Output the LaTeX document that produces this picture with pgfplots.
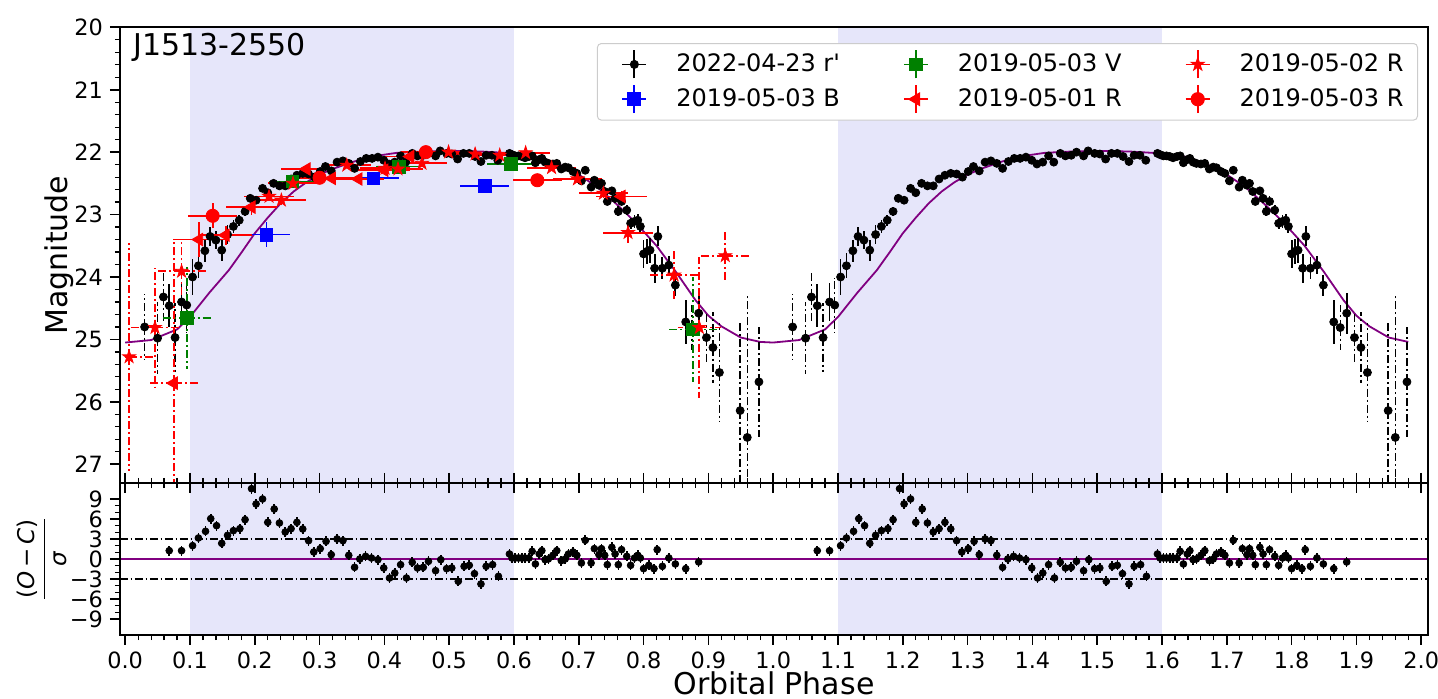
\documentclass[border=0pt]{standalone}
\usepackage{fontspec}
\setmainfont{DejaVu Sans}
\usepackage{pgfplots}
\usepackage{pgfplotstable}
\pgfplotsset{compat=1.18}
\usetikzlibrary{plotmarks}

\definecolor{bandc}{RGB}{230,230,250}
\definecolor{mpurple}{RGB}{128,0,128}
\definecolor{mgreen}{RGB}{0,128,0}
\definecolor{mblue}{RGB}{0,0,255}
\definecolor{mred}{RGB}{255,0,0}

% filled five-pointed star (matplotlib '*')
\pgfdeclareplotmark{fstar}{%
  \pgfpathmoveto{\pgfpointpolar{90}{\pgfplotmarksize}}%
  \pgfpathlineto{\pgfpointpolar{126}{0.382\pgfplotmarksize}}%
  \pgfpathlineto{\pgfpointpolar{162}{\pgfplotmarksize}}%
  \pgfpathlineto{\pgfpointpolar{198}{0.382\pgfplotmarksize}}%
  \pgfpathlineto{\pgfpointpolar{234}{\pgfplotmarksize}}%
  \pgfpathlineto{\pgfpointpolar{270}{0.382\pgfplotmarksize}}%
  \pgfpathlineto{\pgfpointpolar{306}{\pgfplotmarksize}}%
  \pgfpathlineto{\pgfpointpolar{342}{0.382\pgfplotmarksize}}%
  \pgfpathlineto{\pgfpointpolar{18}{\pgfplotmarksize}}%
  \pgfpathlineto{\pgfpointpolar{54}{0.382\pgfplotmarksize}}%
  \pgfpathclose
  \pgfusepathqfillstroke}

% 2022-04-23 r' (phases of the second cycle; first cycle = x-1)
\pgfplotstableread{
x y ey
1.068 24.46 0.34
1.087 24.40 0.31
1.104 24.00 0.29
1.113 23.82 0.20
1.123 23.58 0.18
1.131 23.35 0.15
1.140 23.41 0.14
1.149 23.57 0.17
1.158 23.32 0.15
1.167 23.19 0.10
1.176 23.09 0.09
1.185 22.95 0.07
1.193 22.74 0.06
1.202 22.77 0.06
1.212 22.58 0.05
1.220 22.65 0.05
1.229 22.50 0.04
1.238 22.54 0.04
1.247 22.54 0.04
1.256 22.43 0.04
1.265 22.37 0.04
1.274 22.34 0.04
1.283 22.35 0.04
1.292 22.40 0.04
1.301 22.31 0.03
1.309 22.23 0.03
1.318 22.30 0.03
1.327 22.16 0.03
1.336 22.14 0.03
1.345 22.18 0.03
1.354 22.26 0.03
1.363 22.15 0.03
1.372 22.10 0.03
1.381 22.10 0.03
1.390 22.08 0.03
1.399 22.13 0.03
1.407 22.19 0.03
1.416 22.16 0.03
1.425 22.06 0.03
1.433 22.16 0.03
1.443 22.02 0.03
1.451 22.06 0.03
1.460 22.05 0.03
1.468 22.00 0.03
1.479 22.06 0.03
1.486 21.98 0.03
1.496 22.02 0.03
1.504 22.03 0.03
1.513 22.11 0.03
1.522 22.02 0.03
1.531 22.02 0.03
1.540 22.07 0.03
1.549 22.15 0.03
1.557 22.05 0.03
1.566 22.05 0.03
1.575 22.13 0.03
1.593 22.02 0.03
1.597 22.04 0.03
1.602 22.06 0.03
1.607 22.06 0.03
1.612 22.07 0.03
1.617 22.09 0.03
1.623 22.07 0.03
1.628 22.06 0.03
1.633 22.17 0.03
1.639 22.12 0.03
1.643 22.10 0.03
1.648 22.16 0.03
1.653 22.18 0.03
1.660 22.19 0.03
1.666 22.18 0.03
1.673 22.27 0.03
1.679 22.24 0.03
1.684 22.25 0.03
1.691 22.31 0.04
1.697 22.34 0.04
1.704 22.46 0.04
1.710 22.29 0.04
1.719 22.56 0.05
1.724 22.45 0.05
1.731 22.53 0.05
1.735 22.50 0.05
1.740 22.63 0.06
1.744 22.79 0.06
1.751 22.62 0.06
1.756 22.74 0.07
1.761 22.95 0.08
1.766 22.79 0.08
1.774 22.93 0.08
1.780 23.14 0.09
1.786 23.11 0.10
1.791 23.09 0.10
1.795 23.19 0.11
1.800 23.63 0.22
1.805 23.59 0.20
1.810 23.57 0.20
1.817 23.86 0.23
1.822 23.35 0.16
1.829 23.86 0.18
1.839 23.81 0.14
1.849 24.13 0.17
1.865 24.72 0.35
1.885 24.58 0.33
}\rsolid

\pgfplotstableread{
x y ey
1.030 24.80 0.52
1.050 24.98 0.58
1.059 24.32 0.42
1.077 24.97 0.55
1.095 24.45 0.44
1.875 24.81 0.36
1.897 24.97 0.40
1.907 25.13 0.57
1.917 25.53 0.80
1.949 26.14 1.41
1.960 26.57 2.28
1.978 25.68 0.88
}\rfaint

% residuals (O-C)/sigma, second cycle
\pgfplotstableread{
x r
1.068 1.25
1.087 1.25
1.104 2.0
1.113 3.15
1.124 4.15
1.132 6.05
1.141 5.0
1.149 2.35
1.158 3.55
1.167 4.25
1.177 4.55
1.185 5.9
1.195 10.55
1.202 8.25
1.212 9.0
1.220 5.5
1.230 7.5
1.238 5.4
1.247 4.05
1.256 4.55
1.265 5.5
1.274 4.5
1.283 2.75
1.291 1.05
1.301 1.55
1.310 2.65
1.318 0.65
1.327 3.0
1.336 2.75
1.345 0.55
1.354 -1.25
1.362 0.0
1.371 0.4
1.380 0.15
1.390 -0.1
1.399 -1.35
1.408 -2.85
1.416 -2.1
1.425 -0.85
1.434 -2.85
1.443 -0.5
1.451 -1.35
1.460 -1.25
1.468 -0.35
1.479 -1.75
1.487 -0.1
1.496 -1.45
1.504 -1.35
1.514 -3.35
1.523 -1.1
1.531 -0.95
1.539 -2.2
1.549 -3.75
1.557 -1.1
1.567 -0.85
1.576 -2.6
1.593 0.75
1.597 0.15
1.602 0.15
1.607 0.15
1.612 0.15
1.617 0.15
1.623 0.15
1.628 1.15
1.633 -0.75
1.639 0.75
1.643 1.25
1.648 -0.1
1.653 0.0
1.660 0.55
1.666 1.25
1.673 -0.25
1.679 0.0
1.684 0.75
1.691 1.05
1.697 0.55
1.704 -0.6
1.710 2.8
1.719 -0.6
1.724 1.55
1.731 0.65
1.735 1.55
1.740 0.55
1.744 -0.85
1.751 1.75
1.756 0.75
1.761 -0.85
1.766 1.4
1.774 0.4
1.780 -0.95
1.786 0.15
1.791 0.55
1.795 0.15
1.800 -1.45
1.808 -0.95
1.816 -1.45
1.821 1.4
1.829 -1.1
1.839 0.15
1.849 -0.75
1.865 -1.45
1.885 -0.45
}\resid

% model light curve, one cycle
\pgfplotstableread{
x y
0.00 25.05
0.04 25.01
0.08 24.84
0.10 24.64
0.13 24.25
0.16 23.89
0.18 23.60
0.20 23.30
0.22 23.05
0.24 22.82
0.26 22.63
0.28 22.48
0.30 22.36
0.32 22.27
0.35 22.16
0.38 22.07
0.42 22.01
0.46 21.99
0.50 21.98
0.55 21.99
0.60 22.02
0.64 22.08
0.67 22.20
0.70 22.36
0.73 22.57
0.76 22.85
0.78 23.05
0.80 23.27
0.82 23.50
0.85 23.92
0.88 24.37
0.90 24.62
0.92 24.79
0.95 24.97
0.98 25.04
1.00 25.05
}\model

\pgfplotstableread{
x y ex ey
0.218 23.32 0.037 0.20
0.383 22.42 0.040 0.08
0.555 22.54 0.038 0.07
}\bdata

\pgfplotstableread{
x y ex ey
0.258 22.47 0.036 0.06
0.423 22.23 0.036 0.05
0.595 22.19 0.036 0.05
}\vdata

\pgfplotstableread{
x y ex ey
0.095 24.66 0.037 0.82
0.876 24.84 0.037 0.84
}\vfaint

\pgfplotstableread{
x y ex ey
0.114 23.40 0.040 0.28
0.155 23.33 0.040 0.15
0.195 22.88 0.040 0.12
0.280 22.27 0.040 0.06
0.319 22.42 0.040 0.06
0.360 22.43 0.040 0.06
0.400 22.29 0.040 0.05
0.440 22.07 0.040 0.05
0.766 22.71 0.040 0.08
}\rone

\pgfplotstableread{
x y ex ey
0.075 25.70 0.037 2.30
}\ronefaint

\pgfplotstableread{
x y ex ey
0.222 22.71 0.038 0.07
0.241 22.77 0.038 0.07
0.259 22.50 0.038 0.06
0.342 22.21 0.038 0.05
0.401 22.26 0.038 0.05
0.421 22.27 0.038 0.05
0.458 22.18 0.038 0.05
0.499 22.00 0.038 0.05
0.540 22.03 0.038 0.05
0.578 22.05 0.038 0.05
0.618 22.01 0.038 0.05
0.658 22.25 0.038 0.05
0.698 22.43 0.038 0.06
0.738 22.66 0.038 0.07
0.776 23.29 0.038 0.16
}\rtwo

\pgfplotstableread{
x y exm exp ey
0.006 25.28 0.006 0.037 1.82
0.046 24.81 0.039 0.039 0.96
0.087 23.91 0.039 0.039 0.47
0.847 23.97 0.039 0.039 0.43
0.886 24.81 0.033 0.033 1.13
0.926 23.66 0.039 0.039 0.39
}\rtwofaint

\pgfplotstableread{
x y ex ey
0.135 23.02 0.038 0.20
0.300 22.41 0.038 0.08
0.464 22.00 0.038 0.05
0.636 22.45 0.038 0.06
}\rthree

\tikzset{ddash/.style={dash pattern=on 4pt off 1.5pt on 1pt off 1.5pt}}

\pgfplotsset{
  panel/.style={scale only axis, width=654pt, xmin=-0.008, xmax=2.0105},
  deco/.style={tick align=outside, major tick length=5pt, minor tick length=2.6pt,
    tick style={black, line width=0.8pt}, minor tick style={line width=0.6pt},
    axis line style={line width=0.9pt}, axis on top,
    xtick={0,0.1,...,2.0}, minor x tick num=4,
    tick label style={font=\fontsize{11.2}{13}\selectfont},
    x tick label style={/pgf/number format/.cd, fixed, fixed zerofill, precision=1},
    /pgf/number format/assume math mode=true},
  ebar/.style={only marks, forget plot, mark options={solid},
    error bars/.cd, x dir=both, x explicit, y dir=both, y explicit, error mark=none,
    error bar style={line width=0.9pt, #1}, /pgfplots/.cd},
}

\begin{document}
\begin{tikzpicture}
\useasboundingbox (-60pt,-32pt) rectangle (659pt,317.5pt);

% shaded phase ranges, drawn first so ticks of both panels stay visible
\begin{axis}[panel, hide axis, at={(0pt,0pt)}, anchor=south west, height=76pt, ymin=-11.4, ymax=11.4]
\addplot[fill=bandc, draw=none] coordinates {(0.1,-11.4) (0.6,-11.4) (0.6,11.4) (0.1,11.4)};
\addplot[fill=bandc, draw=none] coordinates {(1.1,-11.4) (1.6,-11.4) (1.6,11.4) (1.1,11.4)};
\end{axis}
\begin{axis}[panel, hide axis, at={(0pt,76pt)}, anchor=south west, height=227.85pt, ymin=20, ymax=27.3]
\addplot[fill=bandc, draw=none] coordinates {(0.1,20) (0.6,20) (0.6,27.3) (0.1,27.3)};
\addplot[fill=bandc, draw=none] coordinates {(1.1,20) (1.6,20) (1.6,27.3) (1.1,27.3)};
\end{axis}

% residual panel
\begin{axis}[panel, deco, at={(0pt,0pt)}, anchor=south west, height=76pt,
  ymin=-11.4, ymax=11.4, ytick={-9,-6,-3,0,3,6,9}, yticklabels={−9,−6,−3,0,3,6,9},
  minor y tick num=2, xtick pos=both, xticklabel pos=left, ytick pos=left,
  xlabel={Orbital Phase},
  xlabel style={at={(axis description cs:0.5,-0.39)}, anchor=base, font=\fontsize{15}{18}\selectfont},
  ylabel={$\displaystyle\frac{\mbox{(\textit{O}\,−\,\textit{C})}}{\mbox{\textit{σ}}}$},
  ylabel style={at={(axis description cs:-0.0596,0.5)}, anchor=center, font=\fontsize{11.5}{14}\selectfont}]
\addplot[mpurple, line width=0.8pt] coordinates {(-0.008,0) (2.0105,0)};
\addplot[black, line width=0.8pt, dash pattern=on 4pt off 1.3pt on 0.9pt off 1.3pt] coordinates {(-0.008,3) (2.0105,3)};
\addplot[black, line width=0.8pt, dash pattern=on 4pt off 1.3pt on 0.9pt off 1.3pt] coordinates {(-0.008,-3) (2.0105,-3)};
\addplot[only marks, black, mark=*, mark size=1.7pt, error bars/.cd, y dir=both, y fixed=0.75, error mark=none, error bar style={line width=0.8pt}]
  table[x expr=\thisrow{x}-1, y=r] {\resid};
\addplot[only marks, black, mark=*, mark size=1.7pt, error bars/.cd, y dir=both, y fixed=0.75, error mark=none, error bar style={line width=0.8pt}]
  table[x=x, y=r] {\resid};
\end{axis}

% light-curve panel
\begin{axis}[panel, deco, at={(0pt,76pt)}, anchor=south west, height=227.85pt,
  ymin=20, ymax=27.3, y dir=reverse, ytick={20,21,...,27}, minor y tick num=4,
  xtick pos=left, xticklabels={}, ytick pos=left,
  ylabel={Magnitude},
  ylabel style={at={(axis description cs:-0.0405,0.5)}, anchor=base, font=\fontsize{15}{18}\selectfont},
  legend columns=3, legend cell align=left,
  legend style={at={(axis description cs:0.99235,0.9655)}, anchor=north east,
    draw=black!20, line width=0.5pt, rounded corners=2pt, fill=white,
    font=\fontsize{12}{14}\selectfont, inner xsep=5pt, inner ysep=3pt, row sep=2.5pt,
    /tikz/every even column/.append style={column sep=22.5pt}},
  legend image code/.code={
    \draw[#1, mark=none, solid, line width=0.9pt] (-6pt,0pt) -- (6pt,0pt);
    \draw[#1, mark=none, solid, line width=0.9pt] (0pt,-7pt) -- (0pt,7pt);
    \path[draw=none, fill=none] (-13.5pt,0pt) -- (19pt,0pt);
    \draw[#1, solid] plot coordinates {(0pt,0pt)};
  }]
\addplot[mpurple, line width=0.9pt, forget plot] table[x=x, y=y] {\model};
\addplot[mpurple, line width=0.9pt, forget plot, restrict x to domain=1:1.985] table[x expr=\thisrow{x}+1, y=y] {\model};

% 2022-04-23 r'
\addplot[only marks, forget plot, black, mark=*, mark size=2pt, error bars/.cd, y dir=both, y explicit, error mark=none, error bar style={line width=0.9pt}]
  table[x expr=\thisrow{x}-1, y=y, y error=ey] {\rsolid};
\addplot[only marks, forget plot, black, mark=*, mark size=2pt, error bars/.cd, y dir=both, y explicit, error mark=none, error bar style={line width=0.9pt}]
  table[x=x, y=y, y error=ey] {\rsolid};
\addplot[only marks, forget plot, black, mark=*, mark size=2pt, mark options={solid}, error bars/.cd, y dir=both, y explicit, error mark=none, error bar style={line width=0.7pt, ddash}]
  table[x expr=\thisrow{x}-1, y=y, y error=ey] {\rfaint};
\addplot[only marks, forget plot, black, mark=*, mark size=2pt, mark options={solid}, error bars/.cd, y dir=both, y explicit, error mark=none, error bar style={line width=0.7pt, ddash}]
  table[x=x, y=y, y error=ey] {\rfaint};

% 2019-05-03 B
\addplot[mblue, mark=square*, mark size=3.2pt, ebar={}] table[x=x, y=y, x error=ex, y error=ey] {\bdata};
% 2019-05-03 V
\addplot[mgreen, mark=square*, mark size=3.2pt, ebar={}] table[x=x, y=y, x error=ex, y error=ey] {\vdata};
\addplot[mgreen, mark=square*, mark size=3.2pt, ebar={ddash}] table[x=x, y=y, x error=ex, y error=ey] {\vfaint};
% 2019-05-01 R
\addplot[mred, mark=triangle*, mark size=3.6pt, ebar={}, mark options={solid, rotate=90}] table[x=x, y=y, x error=ex, y error=ey] {\rone};
\addplot[mred, mark=triangle*, mark size=3.6pt, ebar={ddash}, mark options={solid, rotate=90}] table[x=x, y=y, x error=ex, y error=ey] {\ronefaint};
% 2019-05-02 R
\addplot[mred, mark=fstar, mark size=3.4pt, ebar={}] table[x=x, y=y, x error=ex, y error=ey] {\rtwo};
\addplot[mred, mark=fstar, mark size=3.4pt, ebar={ddash}] table[x=x, y=y, x error plus=exp, x error minus=exm, y error=ey] {\rtwofaint};
% 2019-05-03 R
\addplot[mred, mark=*, mark size=3.3pt, ebar={}] table[x=x, y=y, x error=ex, y error=ey] {\rthree};

% legend, row by row as in the reference's column-wise layout
\addlegendimage{black, mark=*, mark size=2pt}
\addlegendentry{2022-04-23 r\textquotesingle}
\addlegendimage{mgreen, mark=square*, mark size=3.2pt}
\addlegendentry{2019-05-03 V}
\addlegendimage{mred, mark=fstar, mark size=3.4pt}
\addlegendentry{2019-05-02 R}
\addlegendimage{mblue, mark=square*, mark size=3.2pt}
\addlegendentry{2019-05-03 B}
\addlegendimage{mred, mark=triangle*, mark size=3.6pt, mark options={rotate=90}}
\addlegendentry{2019-05-01 R}
\addlegendimage{mred, mark=*, mark size=3.3pt}
\addlegendentry{2019-05-03 R}

\node[anchor=north west, inner sep=0pt, font=\fontsize{15}{18}\selectfont] at (axis description cs:0.0099,0.9868) {J1513-2550};
\end{axis}
\end{tikzpicture}
\end{document}
